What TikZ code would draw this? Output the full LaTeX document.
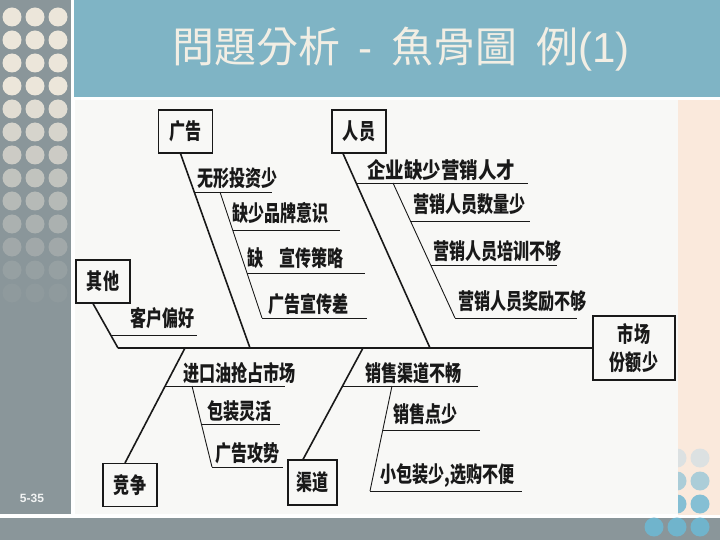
\documentclass[tikz,border=0pt]{standalone}
\usepackage{fontspec}
\usepackage{graphicx}
\setmainfont{Liberation Sans}
\newfontfamily\cjksc{Noto Sans CJK SC}
\newfontfamily\cjktc{Noto Sans CJK TC}
\usetikzlibrary{calc}
\definecolor{colgray}{RGB}{138,150,154}
\definecolor{hdrblue}{RGB}{127,180,197}
\definecolor{peach}{RGB}{250,233,220}
\definecolor{paper}{RGB}{248,248,246}
\definecolor{titlecol}{RGB}{242,238,228}
\definecolor{dotcream}{RGB}{236,230,218}
\definecolor{dotblue}{RGB}{112,180,204}
\definecolor{dotlight}{RGB}{220,225,226}
\definecolor{ink}{RGB}{25,25,25}
\newcommand{\zh}[1]{\scalebox{0.73}[1]{#1}}
\tikzset{
  cjk/.style={font=\cjksc\bfseries\fontsize{22}{28}\selectfont, text=ink},
  box/.style={cjk, draw=ink, line width=1.1pt, inner sep=0pt, minimum width=54pt, minimum height=43pt, fill=paper},
  lbl/.style={cjk, anchor=base west, inner sep=0pt},
  spine/.style={draw=ink, line width=2.4pt},
  bone/.style={draw=ink, line width=1.6pt},
  twig/.style={draw=ink, line width=0.9pt}
}
\begin{document}
\begin{tikzpicture}[x=1pt,y=-1pt]
\useasboundingbox (0,0) rectangle (720,540);
% backgrounds
\fill[white] (0,0) rectangle (720,540);
\fill[colgray] (0,0) rectangle (71,514);
\fill[hdrblue] (74,0) rectangle (720,97);
\fill[peach] (678,100) rectangle (720,515);
\fill[colgray] (0,518) rectangle (720,540);
% top-left dots
\foreach \r in {0,...,12}{
  \pgfmathtruncatemacro{\p}{\r<4 ? 100 : max(5,100-(\r-3)*11)}
  \foreach \c in {0,1,2}{
    \fill[dotcream!\p!colgray] ({12+23*\c},{17+23*\r}) circle (9.5);
  }
}
% bottom-right dots
\foreach \c in {0,1,2}{
  \fill[dotlight] ({654+23*\c},458) circle (9.5);
  \fill[dotblue!45!dotlight] ({654+23*\c},481) circle (9.5);
  \fill[dotblue!85!white] ({654+23*\c},504) circle (9.5);
  \fill[dotblue] ({654+23*\c},527) circle (9.5);
}
% paper
\fill[paper] (75,100) rectangle (678,514);
% title
\node[anchor=base west, inner sep=0pt, text=titlecol, font=\fontsize{42}{46}\selectfont] (title) at (172,63)
  {{\cjktc 問題分析}\ \,-\ \,{\cjktc 魚骨圖}\ \,{\cjktc 例}(1)};
\node[text=white!88!colgray, font=\bfseries\fontsize{12}{14}\selectfont, inner sep=0pt] (page) at (32,498) {5-35};

% category boxes
\node[box] (ad) at (185.5,131.5) {\zh{广告}};
\node[box] (ry) at (359,131.5) {\zh{人员}};
\node[box] (qt) at (103,281.5) {\zh{其他}};
\node[box] (jz) at (130,485) {\zh{竞争}};
\node[box, minimum width=49pt, minimum height=45pt] (qd) at (312.5,482.5) {\zh{渠道}};
\node[box, minimum width=82pt, minimum height=64pt, align=center] (mk) at (634,348) {\zh{市场}\\\zh{份额少}};

% spine
\coordinate (tail) at (118,348);
\coordinate (pad) at (250,348);
\coordinate (pry) at (430,348);
\coordinate (pjz) at (185,348);
\coordinate (pqd) at (363,348);
\draw[spine] (tail) -- (mk.west);

% main bones
\draw[bone] ($(ad.south)+(-5,0)$) -- (pad);
\draw[bone] ($(ry.south)+(-16,0)$) -- (pry);
\draw[bone] ($(qt.south)+(-10,0)$) -- (tail);
\draw[bone] ($(jz.north)+(-5,0)$) -- (pjz);
\draw[bone] ($(qd.north)+(-9.5,0)$) -- (pqd);

% 广告 branch
\draw[twig] (194,192) -- (272,192);
\draw[twig] (220,192) -- (262,318);
\draw[twig] (233,230) -- (340,230);
\draw[twig] (247,273) -- (365,273);
\draw[twig] (262,318) -- (367,318);
\node[lbl] (a1) at (197,187) {\zh{无形投资少}};
\node[lbl] (a2) at (232,222) {\zh{缺少品牌意识}};
\node[lbl] (a3) at (247,266) {\zh{缺　宣传策略}};
\node[lbl] (a4) at (268,312) {\zh{广告宣传差}};

% 人员 branch
\draw[twig] (356,183) -- (528,183);
\draw[twig] (393,183) -- (455,318);
\draw[twig] (410,221) -- (530,221);
\draw[twig] (431,265) -- (557,265);
\draw[twig] (455,318) -- (577,318);
\node[lbl] (b1) at (367,179) {\scalebox{0.84}[1]{企业缺少营销人才}};
\node[lbl] (b2) at (413,212) {\zh{营销人员数量少}};
\node[lbl] (b3) at (433,259) {\zh{营销人员培训不够}};
\node[lbl] (b4) at (458,309) {\zh{营销人员奖励不够}};

% 其他 branch
\draw[twig] (111,335) -- (197,335);
\node[lbl] (c1) at (130,326) {\zh{客户偏好}};

% 竞争 branch
\draw[twig] (165,386) -- (285,386);
\draw[twig] (192,386) -- (212,467);
\draw[twig] (201,424) -- (280,424);
\draw[twig] (212,467) -- (283,467);
\node[lbl] (d1) at (183,381) {\zh{进口油抢占市场}};
\node[lbl] (d2) at (207,419) {\zh{包装灵活}};
\node[lbl] (d3) at (215,461) {\zh{广告攻势}};

% 渠道 branch
\draw[twig] (343,386) -- (478,386);
\draw[twig] (392,386) -- (370,491);
\draw[twig] (383,430) -- (480,430);
\draw[twig] (370,491) -- (522,491);
\node[lbl] (e1) at (365,381) {\zh{销售渠道不畅}};
\node[lbl] (e2) at (393,422) {\zh{销售点少}};
\node[lbl] (e3) at (380,482) {\zh{小包装少,选购不便}};
\end{tikzpicture}
\end{document}
